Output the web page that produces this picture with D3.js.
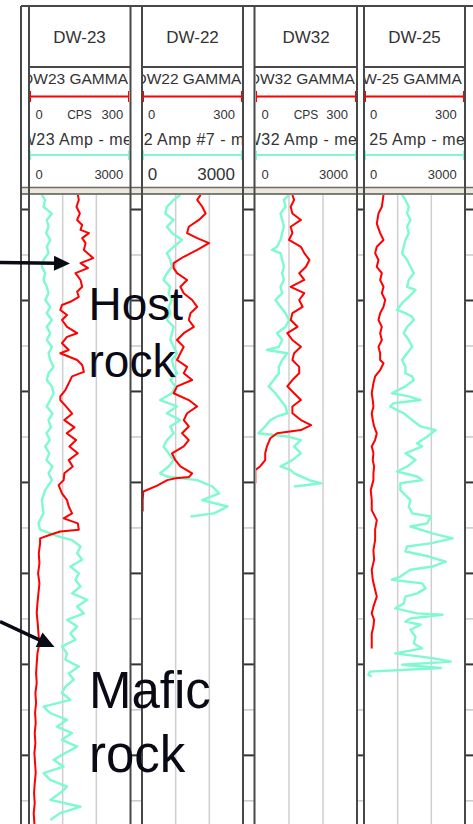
<!DOCTYPE html>
<html><head><meta charset="utf-8">
<script src="https://cdn.jsdelivr.net/npm/d3@7"></script>
<style>html,body{margin:0;padding:0;background:#fff;}svg{display:block;}</style>
</head><body><svg id="c" width="473" height="824"></svg>
<script>
// ---------------- DATA ----------------
const wells = ["DW-23", "DW-22", "DW32", "DW-25"];
const gammaNames = ["DW23 GAMMA", "DW22 GAMMA", "DW32 GAMMA", "DW-25 GAMMA"];
const ampNames = ["DW23 Amp - me", "22 Amp #7 - m", "W32 Amp - me", "25 Amp - me"];
const gammaUnits = ["CPS", "", "CPS", ""];
const gammaRange = [0, 300];
const ampRange = [0, 3000];
const gammaTickLabels = ["0", "300"];
const ampTickLabels = ["0", "3000"];
const depthMajorTicks = [100, 120, 140, 160, 180, 200, 220];
const depthMinorTicks = [110, 130, 150, 170, 190, 210, 230];
const depthExtent = [96.7, 235.2];
const annotationLines = [["Host", "rock"], ["Mafic", "rock"]];

// [depth, CPS]
const dw23Gamma = [[96.9,145],[98.0,148],[99.5,141],[101.0,151],[102.4,143],[103.5,158],[104.6,153],[105.3,178],[106.4,158],[107.5,168],[109.0,163],[110.8,191],[111.9,153],[113.0,175],[114.1,138],[115.6,153],[117.1,158],[118.2,143],[119.3,148],[120.4,123],[121.1,98],[122.2,93],[123.3,113],[124.4,98],[125.9,113],[127.3,143],[128.1,113],[129.5,98],[131.0,118],[131.7,93],[133.2,143],[134.3,158],[135.8,163],[136.8,128],[138.3,118],[139.8,108],[141.2,93],[142.0,93],[143.4,110],[145.0,128],[146.4,105],[148.0,135],[149.3,112],[150.8,140],[152.2,120],[153.7,145],[155.2,118],[156.6,130],[158.1,105],[159.6,103],[160.7,88],[162.5,98],[164.0,113],[165.4,118],[166.9,128],[168.0,103],[169.1,145],[170.5,148],[170.9,93],[171.6,63],[172.4,33],[173.5,33],[175.7,29],[177.9,31],[180.1,27],[182.3,31],[184.5,28],[186.7,25],[188.9,23],[191.1,26],[193.3,28],[195.5,31],[197.7,25],[199.9,23],[202.1,21],[204.2,23],[206.4,19],[208.6,21],[210.8,18],[213.0,20],[215.2,17],[217.4,19],[219.6,16],[221.8,18],[224.0,20],[226.2,17],[228.4,15],[230.6,17],[232.8,14],[235.2,16]];
// [depth, amplitude]
const dw23Amp = [[96.9,380],[98.0,480],[99.5,430],[101.0,680],[102.4,530],[103.9,580],[105.3,510],[106.8,630],[108.3,530],[109.7,580],[111.2,430],[112.7,380],[114.1,480],[115.6,430],[117.1,530],[118.5,580],[120.0,480],[121.5,630],[122.9,530],[124.4,680],[125.9,530],[127.3,630],[128.8,530],[130.3,680],[131.7,580],[133.2,630],[134.7,730],[136.1,580],[137.6,530],[139.0,680],[140.5,730],[142.0,630],[143.4,530],[145.0,700],[146.4,580],[148.0,650],[149.3,520],[150.8,620],[152.2,480],[153.7,600],[155.2,520],[156.6,700],[158.1,580],[159.6,680],[161.8,480],[164.0,380],[166.9,430],[169.1,280],[170.5,330],[171.3,630],[172.0,880],[172.8,1280],[174.2,1530],[175.7,1430],[177.1,1580],[178.6,1230],[180.1,1480],[181.5,1380],[183.0,1530],[184.5,1280],[185.9,1730],[187.4,1430],[188.9,1630],[190.3,1130],[191.8,1430],[193.3,1230],[194.7,1380],[196.2,980],[197.7,1130],[199.1,1080],[200.6,1480],[202.1,1180],[203.5,1330],[205.0,1080],[206.4,980],[207.9,1230],[209.4,430],[210.8,630],[212.3,1130],[213.8,830],[215.2,1280],[216.7,980],[218.2,1430],[219.6,1080],[221.1,730],[222.6,1030],[224.0,430],[225.5,630],[227.0,1130],[228.4,930],[229.9,630],[231.4,1530],[232.8,930],[234.3,630]];
const dw22Gamma = [[96.9,174],[98.0,164],[99.5,179],[101.0,189],[102.4,169],[103.9,139],[105.3,134],[106.4,164],[107.5,199],[109.0,164],[110.5,124],[111.9,94],[113.0,94],[114.1,104],[115.6,134],[117.1,114],[118.5,124],[120.0,149],[121.5,164],[122.9,144],[124.4,139],[125.9,154],[127.3,124],[128.8,104],[130.3,124],[131.7,114],[133.2,104],[134.7,134],[136.1,124],[137.6,149],[139.0,104],[140.5,94],[142.0,139],[143.4,164],[144.9,134],[146.4,124],[147.8,139],[149.3,119],[150.8,139],[152.2,124],[153.7,89],[155.2,99],[156.6,114],[158.1,149],[158.9,140],[159.2,100],[159.6,75],[160.8,45],[162.1,4],[164.0,2],[166.5,2]];
const dw22Amp = [[96.9,1140],[98.0,940],[99.5,740],[101.0,690],[102.4,940],[103.9,740],[105.3,890],[106.8,1190],[108.3,940],[109.7,740],[111.2,840],[112.7,890],[114.1,740],[115.6,640],[117.1,840],[118.5,790],[120.0,890],[121.5,790],[122.9,840],[124.4,740],[125.9,940],[127.3,890],[128.8,840],[130.3,940],[131.7,1040],[133.2,890],[134.7,940],[136.1,1040],[137.6,840],[139.0,990],[140.5,890],[142.0,540],[143.4,1040],[144.9,740],[146.4,1140],[147.8,840],[149.3,940],[150.8,740],[152.2,640],[153.7,790],[155.2,940],[156.6,790],[158.1,540],[158.8,740],[159.6,1640],[161.0,2090],[162.5,2290],[164.0,1790],[165.4,2540],[166.9,2140],[167.6,1440]];
const dw32Gamma = [[96.9,110],[98.0,115],[99.5,105],[101.0,110],[102.4,135],[103.9,105],[105.3,110],[106.8,100],[108.3,135],[109.7,145],[111.2,160],[112.7,150],[114.1,130],[115.6,145],[117.1,105],[118.5,145],[120.0,130],[121.5,140],[122.9,110],[124.4,105],[125.9,125],[127.3,95],[128.8,110],[130.3,135],[131.7,115],[133.2,110],[134.7,130],[136.1,130],[137.6,110],[139.0,95],[140.5,115],[142.0,135],[143.4,110],[144.9,110],[146.4,135],[147.5,165],[148.6,135],[149.3,65],[150.4,45],[152.2,35],[153.7,30],[155.2,30],[156.6,15],[157.4,1],[160.3,1]];
const dw32Amp = [[96.9,1000],[98.0,850],[99.5,900],[101.0,750],[102.4,800],[103.9,850],[105.3,800],[106.8,750],[108.3,650],[109.0,500],[109.7,750],[111.2,800],[112.7,850],[114.1,800],[115.6,850],[117.1,750],[118.5,800],[120.0,600],[121.5,750],[122.9,900],[124.4,1000],[125.9,900],[127.3,650],[128.8,800],[130.3,700],[131.0,350],[131.7,950],[133.2,800],[134.7,700],[136.1,700],[137.6,550],[139.0,400],[140.5,600],[142.0,750],[143.4,900],[144.9,950],[145.6,650],[146.4,450],[147.8,300],[149.3,100],[150.0,950],[150.8,1350],[152.2,1150],[153.7,1350],[155.2,1100],[156.6,750],[157.4,1050],[158.1,1150],[159.6,1600],[160.3,1950],[161.0,1150]];
const dw25Gamma = [[96.9,58],[99.5,53],[101.0,43],[103.2,38],[105.3,48],[106.8,58],[108.3,38],[109.7,33],[111.2,43],[112.7,38],[114.1,53],[115.6,48],[117.1,58],[118.5,53],[120.0,63],[121.5,58],[122.9,48],[124.4,43],[125.9,53],[127.3,48],[128.8,53],[130.3,43],[131.7,48],[133.2,48],[133.9,58],[135.4,48],[136.8,33],[138.3,28],[140.5,23],[142.0,26],[143.4,28],[144.9,23],[146.4,26],[147.8,30],[149.3,38],[150.8,33],[152.2,23],[153.7,28],[155.2,26],[156.6,30],[158.1,28],[159.6,28],[161.8,20],[164.0,23],[166.2,23],[168.4,38],[170.5,33],[172.8,33],[175.0,28],[177.1,30],[179.3,23],[181.5,26],[183.7,33],[185.2,38],[187.4,28],[188.9,23],[190.3,30],[191.8,28],[193.3,23],[194.7,23],[196.6,23]];
const dw25Amp = [[96.9,1130],[98.0,1230],[99.5,1330],[101.0,1280],[102.4,1380],[103.9,1280],[105.3,1330],[106.8,1230],[108.3,1180],[109.7,1130],[111.2,1280],[112.7,1380],[114.1,1480],[115.6,1330],[117.1,1280],[117.8,1530],[119.3,1330],[120.7,1130],[122.2,980],[122.9,1230],[123.7,1430],[124.4,1480],[125.9,1280],[127.3,1180],[128.8,1330],[130.3,1430],[131.7,1280],[133.2,1130],[134.7,1230],[136.1,1230],[136.8,1430],[137.6,1480],[139.0,1230],[140.5,830],[141.2,1330],[142.0,1680],[142.7,880],[143.4,780],[144.2,980],[144.9,1180],[146.4,1430],[147.8,1680],[148.6,2130],[150.0,1880],[151.5,1580],[152.2,1730],[153.7,1230],[155.2,1530],[156.6,1280],[157.7,980],[158.8,1580],[159.6,1730],[160.3,1080],[161.8,1080],[164.0,1380],[165.4,1330],[166.9,1430],[167.6,1980],[169.1,1880],[169.8,1380],[171.3,2030],[172.4,2630],[173.5,1980],[174.2,1280],[175.3,1230],[176.4,1930],[177.5,2430],[178.6,2030],[179.3,1380],[180.8,1080],[181.5,830],[182.3,1730],[183.4,1830],[184.5,1580],[185.2,1230],[186.7,1180],[187.8,930],[188.9,1580],[189.2,2330],[190.0,1380],[190.7,1230],[191.4,1680],[192.5,1380],[194.0,1530],[195.5,1480],[196.6,1730],[197.7,930],[198.8,2080],[199.5,2580],[200.2,1130],[200.9,2280],[201.7,180],[202.4,130],[202.8,230]];

const gammaSeries = [dw23Gamma, dw22Gamma, dw32Gamma, dw25Gamma];
const ampSeries = [dw23Amp, dw22Amp, dw32Amp, dw25Amp];

// ---------------- LAYOUT / STYLE ----------------
const FONT = "'Liberation Sans', Arial, Helvetica, sans-serif";
const RED = "#ff0000", AQUA = "#7ff9d1", DARK = "#484848", TXT = "#333333", INK = "#0a0a16";
const tracks = [
  {x0: 29, x1: 130, gOff: -6.9, aOff: -20.4, big: false, g0: 10, gEnd: 6.7},
  {x0: 142, x1: 243, gOff: -6.5, aOff: -7.75, big: true, g0: 9.7, gEnd: 8},
  {x0: 255, x1: 357, gOff: -6.2, aOff: -9.35, big: false, g0: 10, gEnd: 9},
  {x0: 364, x1: 465, gOff: -13, aOff: 5.25, big: false, g0: 9.5, gEnd: 8.3}
];
const strips = [[21, 29], [130.5, 142], [243, 254.5], [357, 364], [465, 480]];
const plotTop = 194, plotBottom = 824;

const svg = d3.select("#c");
const y = d3.scaleLinear().domain(depthExtent).range([plotTop, plotBottom]);

// header top line
svg.append("line").attr("x1", 21).attr("x2", 473).attr("y1", 6).attr("y2", 6)
  .attr("stroke", DARK).attr("stroke-width", 2);

// beige band under header
svg.append("rect").attr("x", 21).attr("y", 187).attr("width", 452).attr("height", 7).attr("fill", "#ebe8da");
svg.append("line").attr("x1", 21).attr("x2", 473).attr("y1", 187.5).attr("y2", 187.5).attr("stroke", "#6a6a6a").attr("stroke-width", 1.5);
svg.append("line").attr("x1", 21).attr("x2", 473).attr("y1", 194).attr("y2", 194).attr("stroke", "#555").attr("stroke-width", 1.5);

// depth strips (ruler ticks) using a D3 axis
strips.forEach(([a, b]) => {
  const w = b - a;
  const gMin = svg.append("g").attr("transform", `translate(${a},0)`)
    .call(d3.axisRight(y).tickValues(depthMinorTicks).tickSize(w).tickFormat(""));
  gMin.select(".domain").remove();
  gMin.selectAll(".tick line").attr("stroke", "#c9c9c9").attr("stroke-width", 1.5);
  const gMaj = svg.append("g").attr("transform", `translate(${a},0)`)
    .call(d3.axisRight(y).tickValues(depthMajorTicks).tickSize(w).tickFormat(""));
  gMaj.select(".domain").remove();
  gMaj.selectAll(".tick line").attr("stroke", "#333").attr("stroke-width", 2);
  [a, b].forEach(x => {
    if (x > 473) return;
    svg.append("line").attr("x1", x).attr("x2", x).attr("y1", 6).attr("y2", plotBottom)
      .attr("stroke", DARK).attr("stroke-width", 2);
  });
});

const defs = svg.append("defs");

tracks.forEach((t, i) => {
  const gx = d3.scaleLinear().domain(gammaRange).range([t.x0, t.x1]);
  const ax = d3.scaleLinear().domain(ampRange).range([t.x0, t.x1]);
  const cx = (t.x0 + t.x1) / 2;

  // header clip
  defs.append("clipPath").attr("id", "hc" + i).append("rect")
    .attr("x", t.x0 + 1).attr("y", 7).attr("width", t.x1 - t.x0 - 2).attr("height", 180);
  const h = svg.append("g").attr("clip-path", `url(#hc${i})`);

  // title box line
  svg.append("line").attr("x1", t.x0).attr("x2", t.x1).attr("y1", 67).attr("y2", 67)
    .attr("stroke", DARK).attr("stroke-width", 2);
  h.append("text").attr("x", cx).attr("y", 43).attr("text-anchor", "middle")
    .attr("font-family", FONT).attr("font-size", 17).attr("fill", TXT).text(wells[i]);

  // gamma curve header
  h.append("text").attr("x", t.x0 + t.gOff).attr("y", 84)
    .attr("font-family", FONT).attr("font-size", 15.5).attr("fill", TXT).text(gammaNames[i]);
  h.append("line").attr("x1", gx(gammaRange[0])).attr("x2", gx(gammaRange[1])).attr("y1", 96.5).attr("y2", 96.5)
    .attr("stroke", RED).attr("stroke-width", 2);
  [gx(gammaRange[0]) + 1, gx(gammaRange[1]) - 1].forEach(x =>
    h.append("line").attr("x1", x).attr("x2", x).attr("y1", 91).attr("y2", 102)
      .attr("stroke", RED).attr("stroke-width", 2));
  h.append("text").attr("x", t.x0 + t.g0).attr("y", 119).attr("text-anchor", "middle")
    .attr("font-family", FONT).attr("font-size", 13).attr("fill", TXT).text(gammaTickLabels[0]);
  h.append("text").attr("x", t.x1 - t.gEnd).attr("y", 119).attr("text-anchor", "end")
    .attr("font-family", FONT).attr("font-size", 13).attr("fill", TXT).text(gammaTickLabels[1]);
  if (gammaUnits[i]) h.append("text").attr("x", cx).attr("y", 119).attr("text-anchor", "middle")
    .attr("font-family", FONT).attr("font-size", 12).attr("fill", TXT).text(gammaUnits[i]);

  // amp curve header
  h.append("text").attr("x", t.x0 + t.aOff).attr("y", 145).attr("letter-spacing", 0.5)
    .attr("font-family", FONT).attr("font-size", 16).attr("fill", TXT).text(ampNames[i]);
  h.append("line").attr("x1", ax(ampRange[0])).attr("x2", ax(ampRange[1])).attr("y1", 155).attr("y2", 155)
    .attr("stroke", AQUA).attr("stroke-width", 2);
  [ax(ampRange[0]) + 1, ax(ampRange[1]) - 1].forEach(x =>
    h.append("line").attr("x1", x).attr("x2", x).attr("y1", 150.5).attr("y2", 160)
      .attr("stroke", AQUA).attr("stroke-width", 2));
  const afs = t.big ? 17 : 13;
  h.append("text").attr("x", t.x0 + (t.big ? 10.5 : t.g0)).attr("y", t.big ? 180 : 179).attr("text-anchor", "middle")
    .attr("font-family", FONT).attr("font-size", afs).attr("fill", TXT).text(ampTickLabels[0]);
  h.append("text").attr("x", t.x1 - t.gEnd).attr("y", t.big ? 180 : 179).attr("text-anchor", "end")
    .attr("font-family", FONT).attr("font-size", afs).attr("fill", TXT).text(ampTickLabels[1]);

  // plot area
  defs.append("clipPath").attr("id", "pc" + i).append("rect")
    .attr("x", t.x0 + 1).attr("y", plotTop + 1).attr("width", t.x1 - t.x0 - 2).attr("height", plotBottom - plotTop);
  const p = svg.append("g").attr("clip-path", `url(#pc${i})`);
  // vertical grid at thirds
  gx.ticks(3).filter(v => v > gammaRange[0] && v < gammaRange[1]).forEach(v =>
    p.append("line").attr("x1", gx(v)).attr("x2", gx(v)).attr("y1", plotTop).attr("y2", plotBottom)
      .attr("stroke", "#cfcfcf").attr("stroke-width", 1.5));

  p.append("path").datum(ampSeries[i])
    .attr("d", d3.line().x(d => ax(d[1])).y(d => y(d[0])))
    .attr("fill", "none").attr("stroke", AQUA).attr("stroke-width", 2.4).attr("stroke-linejoin", "round");
  p.append("path").datum(gammaSeries[i])
    .attr("d", d3.line().x(d => gx(d[1])).y(d => y(d[0])))
    .attr("fill", "none").attr("stroke", RED).attr("stroke-width", 2).attr("stroke-linejoin", "round");
});

// ---------------- ANNOTATIONS ----------------
function arrow(x1, y1, x2, y2, len, half) {
  const a = Math.atan2(y2 - y1, x2 - x1);
  const bx = x2 - len * Math.cos(a), by = y2 - len * Math.sin(a);
  svg.append("line").attr("x1", x1).attr("y1", y1).attr("x2", bx + 2 * Math.cos(a)).attr("y2", by + 2 * Math.sin(a))
    .attr("stroke", INK).attr("stroke-width", 3.5);
  const pts = [[x2, y2], [bx - half * Math.sin(a), by + half * Math.cos(a)], [bx + half * Math.sin(a), by - half * Math.cos(a)]];
  svg.append("polygon").attr("points", pts.map(q => q.join(",")).join(" ")).attr("fill", INK);
}
arrow(0, 262.5, 70, 263.5, 16, 7.5);
arrow(0, 621.5, 54.5, 647, 17, 8);

const ann = [{x: 88.5, y: 320, fs: 46, dy: 57}, {x: 89, y: 708.3, fs: 51, dy: 63.4}];
ann.forEach((a, i) => {
  annotationLines[i].forEach((s, j) =>
    svg.append("text").attr("x", a.x).attr("y", a.y + j * a.dy)
      .attr("font-family", FONT).attr("font-size", a.fs).attr("fill", INK).text(s));
});
</script></body></html>
